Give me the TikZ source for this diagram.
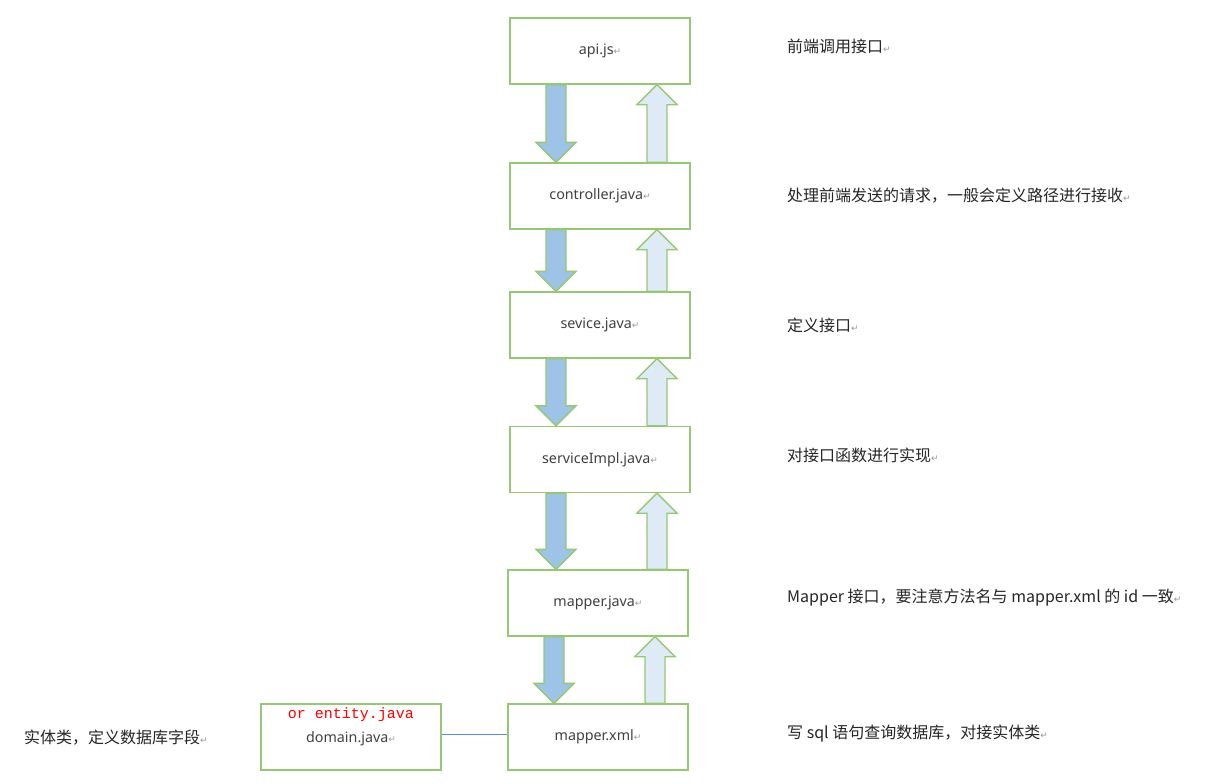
\documentclass[tikz,border=0pt]{standalone}
\usepackage{fontspec}
\setmainfont{Noto Sans}
\newfontfamily\cjk{Noto Sans CJK SC}
\newfontfamily\retfont{DejaVu Sans}
\newfontfamily\redmono{Liberation Mono}
\usetikzlibrary{calc}
\definecolor{boxgreen}{RGB}{150,200,115}
\definecolor{downblue}{RGB}{157,195,230}
\definecolor{uplight}{RGB}{222,235,247}
\definecolor{linkblue}{RGB}{91,140,213}
\definecolor{txt}{RGB}{64,64,64}
\newcommand{\retmark}{{\retfont\fontsize{9}{9}\selectfont\color{gray!80}↵}}
\tikzset{
  filebox/.style={draw=boxgreen, line width=1.3pt, fill=white, minimum width=180pt, minimum height=66pt, inner sep=0pt, text=txt, font=\fontsize{14.3}{16}\selectfont},
  note/.style={anchor=west, inner sep=0pt, text=black!85, font=\cjk\fontsize{16}{18}\selectfont},
  bigdown/.style={draw=boxgreen, line width=1.3pt, fill=downblue, line join=miter},
  bigup/.style={draw=boxgreen, line width=1.3pt, fill=uplight, line join=miter},
  link/.style={draw=linkblue, line width=0.9pt}
}
\newcommand{\blockdown}[2]{%
  \path let \p1=(#1.south), \p2=(#2.north) in
    [bigdown] ({\x1-54pt},\y1) -- ({\x1-34pt},\y1) -- ({\x1-34pt},{\y2+20pt}) -- ({\x1-24pt},{\y2+20pt}) --
    ({\x1-44pt},\y2) -- ({\x1-64pt},{\y2+20pt}) -- ({\x1-54pt},{\y2+20pt}) -- cycle;}
\newcommand{\blockup}[2]{%
  \path let \p1=(#1.south), \p2=(#2.north) in
    [bigup] ({\x1+47pt},\y2) -- ({\x1+47pt},{\y1-20pt}) -- ({\x1+37pt},{\y1-20pt}) -- ({\x1+57pt},\y1) --
    ({\x1+77pt},{\y1-20pt}) -- ({\x1+67pt},{\y1-20pt}) -- ({\x1+67pt},\y2) -- cycle;}
\begin{document}
\begin{tikzpicture}[x=1pt,y=-1pt]
\useasboundingbox (0,0) rectangle (1218,784);
\fill[white] (0,0) rectangle (1218,784);

\node[filebox] (api)    at (600,51)    {api.js\retmark};
\node[filebox] (ctrl)   at (600,196)   {controller.java\retmark};
\node[filebox] (svc)    at (600,325)   {sevice.java\retmark};
\node[filebox] (impl)   at (600,459.5) {serviceImpl.java\retmark};
\node[filebox] (mjava)  at (598,603)   {mapper.java\retmark};
\node[filebox] (mxml)   at (598,737)   {mapper.xml\retmark};
\node[filebox] (domain) at (351,737) {};
\node[text=red, font=\redmono\fontsize{15}{16}\selectfont, inner sep=0pt] (alt) at (351,715) {or entity.java};
\node[text=txt, font=\fontsize{14.3}{16}\selectfont, inner sep=0pt] (dname) at (351,739) {domain.java\retmark};

\blockdown{api}{ctrl}
\blockup{api}{ctrl}
\blockdown{ctrl}{svc}
\blockup{ctrl}{svc}
\blockdown{svc}{impl}
\blockup{svc}{impl}
\blockdown{impl}{mjava}
\blockup{impl}{mjava}
\blockdown{mjava}{mxml}
\blockup{mjava}{mxml}

\draw[link] ([yshift=3pt]domain.east) -- ([yshift=3pt]mxml.west);

\node[note] (n1) at (787,46)  {前端调用接口\retmark};
\node[note] (n2) at (787,196) {处理前端发送的请求，一般会定义路径进行接收\retmark};
\node[note] (n3) at (787,325) {定义接口\retmark};
\node[note] (n4) at (787,455) {对接口函数进行实现\retmark};
\node[note] (n5) at (787,598) {Mapper 接口，要注意方法名与 mapper.xml 的 id 一致\retmark};
\node[note] (n6) at (787,734) {写 sql 语句查询数据库，对接实体类\retmark};
\node[note] (n7) at (24,738)  {实体类，定义数据库字段\retmark};
\end{tikzpicture}
\end{document}
